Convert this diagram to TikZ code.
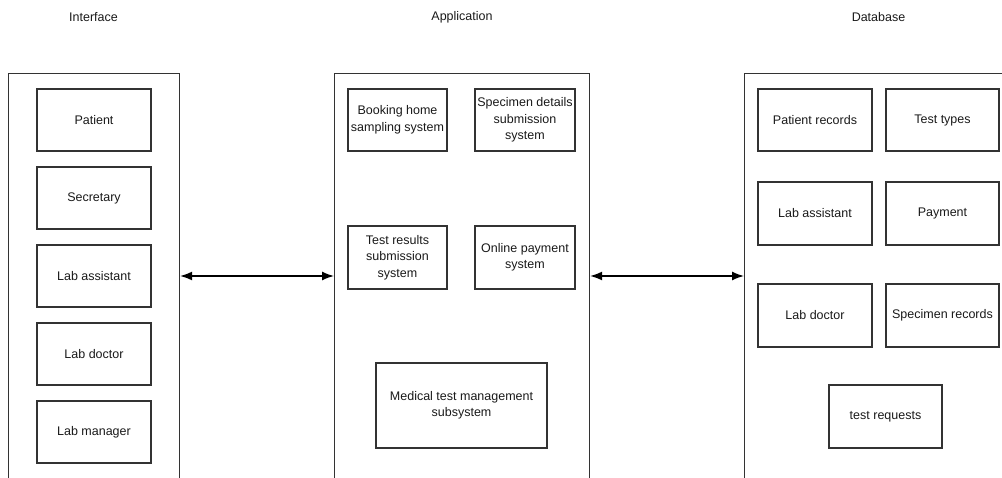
\documentclass[tikz,border=0pt]{standalone}
\usepackage{fontspec}
\setmainfont{Liberation Sans}
\usetikzlibrary{arrows.meta}
\definecolor{edge}{HTML}{333333}
\tikzset{
  container/.style={draw=edge, line width=1.1pt, rectangle, inner sep=0pt},
  box/.style={draw=edge, line width=1.4pt, rectangle, inner sep=0pt, align=center,
    font=\fontsize{12.5}{16.5}\selectfont, text=black!90},
  title/.style={font=\fontsize{12.5}{15}\selectfont, text=black!90},
  link/.style={line width=1.5pt, {Latex[length=12pt,width=9pt]}-{Latex[length=12pt,width=9pt]}}
}
\begin{document}
\begin{tikzpicture}[x=1pt,y=-1pt]
\useasboundingbox (0,0) rectangle (1002,478);
% titles
\node[title] (tI) at (93.5,17) {Interface};
\node[title] (tA) at (462,17) {Application};
\node[title] (tD) at (878.5,17) {Database};
% containers
\node[container, minimum width=171pt, minimum height=430pt, anchor=north west] (ifc) at (8,73) {};
\node[container, minimum width=255pt, minimum height=430pt, anchor=north west] (app) at (334,73) {};
\node[container, minimum width=280pt, minimum height=430pt, anchor=north west] (db) at (744,73) {};
% interface boxes
\node[box, minimum width=114pt, minimum height=62pt] (i1) at (94,120) {Patient};
\node[box, minimum width=114pt, minimum height=62pt] (i2) at (94,198) {Secretary};
\node[box, minimum width=114pt, minimum height=62pt] (i3) at (94,276) {Lab assistant};
\node[box, minimum width=114pt, minimum height=62pt] (i4) at (94,354) {Lab doctor};
\node[box, minimum width=114pt, minimum height=62pt] (i5) at (94,432) {Lab manager};
% application boxes
\node[box, minimum width=99pt, minimum height=62pt] (a1) at (397.5,120) {Booking home\\sampling system};
\node[box, minimum width=100pt, minimum height=62pt] (a2) at (525,120) {Specimen details\\submission\\system};
\node[box, minimum width=99pt, minimum height=63pt] (a3) at (397.5,257.5) {Test results\\submission\\system};
\node[box, minimum width=100pt, minimum height=63pt] (a4) at (525,257.5) {Online payment\\system};
\node[box, minimum width=171pt, minimum height=85pt] (a5) at (461.5,405.5) {Medical test management\\subsystem};
% database boxes
\node[box, minimum width=114pt, minimum height=62pt] (d1) at (815,120) {Patient records};
\node[box, minimum width=113pt, minimum height=62pt] (d2) at (942.5,120) {Test types};
\node[box, minimum width=114pt, minimum height=63pt] (d3) at (815,213.5) {Lab assistant};
\node[box, minimum width=113pt, minimum height=63pt] (d4) at (942.5,213.5) {Payment};
\node[box, minimum width=114pt, minimum height=63pt] (d5) at (815,315.5) {Lab doctor};
\node[box, minimum width=113pt, minimum height=63pt] (d6) at (942.5,315.5) {Specimen records};
\node[box, minimum width=113pt, minimum height=63pt] (d7) at (885.5,416.5) {test requests};
% connectors
\draw[link] (ifc.east |- i3.center) -- (app.west |- i3.center);
\draw[link] (app.east |- i3.center) -- (db.west |- i3.center);
\end{tikzpicture}
\end{document}
